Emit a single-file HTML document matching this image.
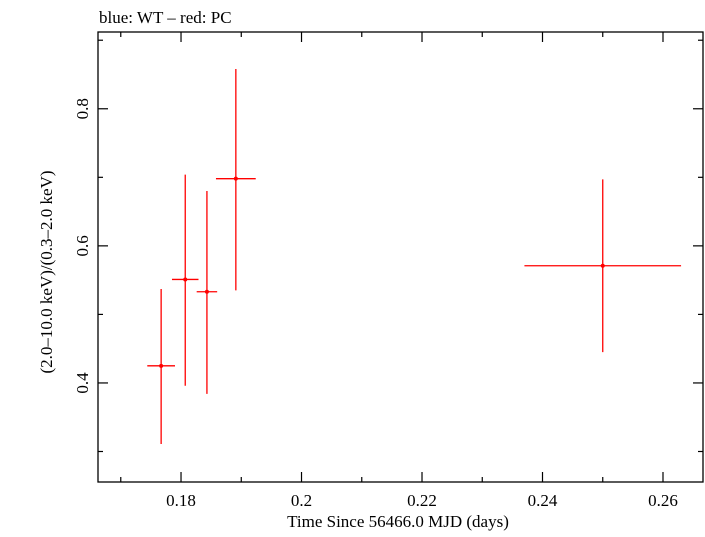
<!DOCTYPE html>
<html><head><meta charset="utf-8"><style>
body{margin:0;background:#fff}
svg text{font-family:"Liberation Serif",serif;fill:#000}
</style></head><body>
<svg id="chart" width="705" height="532" viewBox="0 0 705 532" xmlns="http://www.w3.org/2000/svg">
<text x="99" y="23" font-size="17">blue: WT – red: PC</text>
<rect x="98" y="32" width="605" height="450" fill="none" stroke="#000" stroke-width="1.3"/>
<g id="ticks"></g><g id="points"></g>
<text x="398" y="527" font-size="17" text-anchor="middle">Time Since 56466.0 MJD (days)</text>
<text transform="translate(52,272) rotate(-90)" font-size="17" text-anchor="middle">(2.0–10.0 keV)/(0.3–2.0 keV)</text>
</svg>
<script>
const times=[0.1767,0.1807,0.1843,0.1891,0.2500];
const timeErr=[0.0023,0.0022,0.0017,0.0033,0.0130];
const ratios=[0.425,0.551,0.533,0.698,0.571];
const ratioHi=[0.537,0.704,0.680,0.858,0.697];
const ratioLo=[0.311,0.396,0.384,0.535,0.445];
const xTicks=[0.18,0.2,0.22,0.24,0.26];
const xTickLabels=["0.18","0.2","0.22","0.24","0.26"];
const xMinor=[0.17,0.19,0.21,0.23,0.25];
const yTicks=[0.4,0.6,0.8];
const yTickLabels=["0.4","0.6","0.8"];
const yMinor=[0.3,0.5,0.7,0.9];
const X0=98,X1=703,Y0=482,Y1=32,xmin=0.16622,xmax=0.26664,ymin=0.2555,ymax=0.912;
const sx=v=>X0+(v-xmin)/(xmax-xmin)*(X1-X0);
const sy=v=>Y0-(v-ymin)/(ymax-ymin)*(Y0-Y1);
const NS="http://www.w3.org/2000/svg";
const tg=document.getElementById('ticks'),pg=document.getElementById('points');
function ln(g,x1,y1,x2,y2,c,w){const l=document.createElementNS(NS,'line');l.setAttribute('x1',x1);l.setAttribute('y1',y1);l.setAttribute('x2',x2);l.setAttribute('y2',y2);l.setAttribute('stroke',c);l.setAttribute('stroke-width',w);g.appendChild(l);return l;}
xTicks.forEach((v,i)=>{const x=sx(v);
const a=ln(tg,x,Y0,x,Y0-10,'#000',1.2);


const b=ln(tg,x,Y1,x,Y1+10,'#000',1.2);


const t=document.createElementNS(NS,'text');t.setAttribute('x',x);t.setAttribute('y',506);t.setAttribute('font-size','17');t.setAttribute('text-anchor','middle');t.textContent=xTickLabels[i];


tg.appendChild(t);});
xMinor.forEach(v=>{const x=sx(v);
const a=ln(tg,x,Y0,x,Y0-5,'#000',1.2);


const b=ln(tg,x,Y1,x,Y1+5,'#000',1.2);

});
yTicks.forEach((v,i)=>{const y=sy(v);
const a=ln(tg,X0,y,X0+10,y,'#000',1.2);


const b=ln(tg,X1,y,X1-10,y,'#000',1.2);


const t=document.createElementNS(NS,'text');t.setAttribute('transform','translate(88,'+y+') rotate(-90)');t.setAttribute('font-size','17');t.setAttribute('text-anchor','middle');t.textContent=yTickLabels[i];


tg.appendChild(t);});
yMinor.forEach(v=>{const y=sy(v);
const a=ln(tg,X0,y,X0+5,y,'#000',1.2);


const b=ln(tg,X1,y,X1-5,y,'#000',1.2);

});
times.forEach((t,i)=>{
const g=document.createElementNS(NS,'g');


ln(g,sx(t-timeErr[i]),sy(ratios[i]),sx(t+timeErr[i]),sy(ratios[i]),'#f00',1.3);
ln(g,sx(t),sy(ratioLo[i]),sx(t),sy(ratioHi[i]),'#f00',1.3);
const c=document.createElementNS(NS,'circle');c.setAttribute('cx',sx(t));c.setAttribute('cy',sy(ratios[i]));c.setAttribute('r',2);c.setAttribute('fill','#f00');g.appendChild(c);
pg.appendChild(g);});
</script>
</body></html>
